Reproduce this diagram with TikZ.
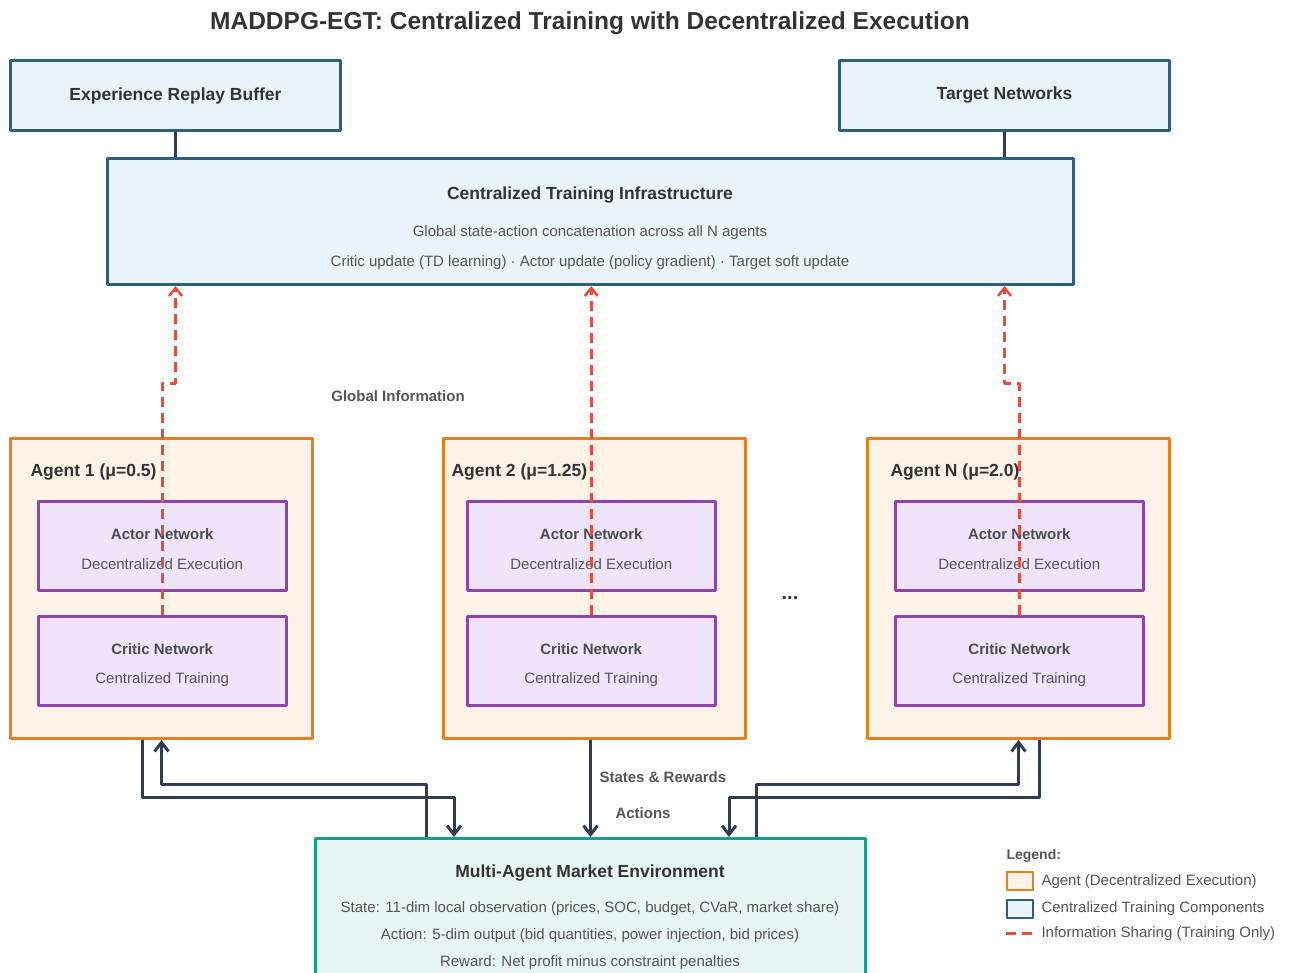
\documentclass[tikz,border=0pt]{standalone}
\usepackage{fontspec}
\setmainfont{Liberation Sans}
\usetikzlibrary{arrows.meta}
\definecolor{trainblue}{HTML}{2E5F7F}
\definecolor{trainfill}{HTML}{E8F4F8}
\definecolor{agentorange}{HTML}{E67E22}
\definecolor{agentfill}{HTML}{FEF3E6}
\definecolor{netpurple}{HTML}{8E44AD}
\definecolor{netfill}{HTML}{EFE4FC}
\definecolor{envteal}{HTML}{16A085}
\definecolor{envfill}{HTML}{E8F6F3}
\definecolor{shared}{HTML}{E74C3C}
\definecolor{flowdark}{HTML}{2C3E50}
\definecolor{txtdark}{HTML}{333333}
\definecolor{txtgray}{HTML}{555555}
\begin{document}
\begin{tikzpicture}[x=1pt,y=-1pt,line join=round,
	bluebox/.style={draw=trainblue,fill=trainfill,line width=3pt,anchor=north west},
	agentbox/.style={draw=agentorange,fill=agentfill,line width=3pt,anchor=north west,minimum width=302,minimum height=300},
	netbox/.style={draw=netpurple,fill=netfill,line width=2.5pt,anchor=north west,minimum width=248,minimum height=89},
	envbox/.style={draw=envteal,fill=envfill,line width=3pt,anchor=north west,minimum width=550,minimum height=160},
	bigttl/.style={font=\fontsize{17.5}{20}\selectfont\bfseries,text=txtdark},
	netttl/.style={font=\fontsize{15}{18}\selectfont\bfseries,text=txtgray!90!black},
	body/.style={font=\fontsize{15}{18}\selectfont,text=txtgray},
	tag/.style={font=\fontsize{15}{18}\selectfont\bfseries,text=txtgray},
	link/.style={draw=flowdark,line width=3pt},
	flow/.style={draw=flowdark,line width=3pt,-{Straight Barb[length=9pt,width=14pt,line width=3pt]}},
	share/.style={draw=shared,line width=3pt,dash pattern=on 10pt off 6pt,-{Straight Barb[length=8pt,width=13pt,line width=2.5pt]}}]
	\clip (0,0) rectangle (1292,972);
	\fill[white] (0,0) rectangle (1292,972);
	%%% title
	\node[font=\fontsize{24.5}{28}\selectfont\bfseries,text=txtdark] (title) at (590,23) {MADDPG-EGT: Centralized Training with Decentralized Execution};
	%%% centralized training part
	\node[bluebox,minimum width=330,minimum height=70] (erb) at (9,59) {};
	\node[bigttl] (erb-t) at (erb.center) {Experience Replay Buffer};
	\node[bluebox,minimum width=330,minimum height=70] (tgt) at (838,59) {};
	\node[bigttl] (tgt-t) at (tgt.center) {Target Networks};
	\node[bluebox,minimum width=966,minimum height=126] (cti) at (106,157) {};
	\node[bigttl] (cti-t) at (590,195) {Centralized Training Infrastructure};
	\node[body] (cti-a) at (590,233) {Global state-action concatenation across all N agents};
	\node[body] (cti-b) at (590,263) {Critic update (TD learning) · Actor update (policy gradient) · Target soft update};
	\draw[link] (erb.south) -- (erb.south |- cti.north);
	\draw[link] (tgt.south) -- (tgt.south |- cti.north);
	%%% agents
	\foreach \n/\x/\dx/\lx/\lab in {1/9/28/27/{Agent 1 (μ=0.5)},2/442/24/448/{Agent 2 (μ=1.25)},3/866/28/887/{Agent N (μ=2.0)}}{
		\node[agentbox] (ag\n) at (\x,437) {};
		\node[font=\fontsize{17.5}{20}\selectfont\bfseries,text=txtdark,anchor=west] (ag\n-t) at (\lx,472) {\lab};
		\node[netbox] (ac\n) at (\x+\dx,500) {};
		\node[netttl] (ac\n-t) at ([yshift=11.5pt]ac\n.center) {Actor Network};
		\node[body] (ac\n-s) at ([yshift=-18.5pt]ac\n.center) {Decentralized Execution};
		\node[netbox] (cr\n) at (\x+\dx,615) {};
		\node[netttl] (cr\n-t) at ([yshift=11.5pt]cr\n.center) {Critic Network};
		\node[body] (cr\n-s) at ([yshift=-18.5pt]cr\n.center) {Centralized Training};
	}
	\node[font=\fontsize{20}{22}\selectfont\bfseries,text=txtdark] (dots) at (790,598) {...};
	%%% information sharing (training only)
	\draw[share] (cr1.north) -- ++(0,-232) -| (erb.south |- cti.south);
	\draw[share] (cr2.north) -- (cr2.north |- cti.south);
	\draw[share] (cr3.north) -- ++(0,-232) -| (tgt.south |- cti.south);
	\node[tag] (glob) at (398,396) {Global Information};
	%%% environment
	\node[envbox] (env) at (314,837) {};
	\node[bigttl] (env-t) at (590,873) {Multi-Agent Market Environment};
	\node[body] (env-a) at (590,909) {State: 11-dim local observation (prices, SOC, budget, CVaR, market share)};
	\node[body] (env-b) at (590,936) {Action: 5-dim output (bid quantities, power injection, bid prices)};
	\node[body] (env-c) at (590,963) {Reward: Net profit minus constraint penalties};
	%%% actions down, states and rewards up
	\draw[flow] ([xshift=-19.5pt]ag1.south) -- ++(0,57) -| ([xshift=-136.5pt]env.north);
	\draw[flow] ([xshift=-164.5pt]env.north) -- ++(0,-53) -| (ag1.south);
	\draw[flow] (ag2.south -| env.north) -- (env.north);
	\draw[flow] ([xshift=20.5pt]ag3.south) -- ++(0,57) -| ([xshift=138.5pt]env.north);
	\draw[flow] ([xshift=165.5pt]env.north) -- ++(0,-53) -| (ag3.south);
	\node[tag,anchor=west] (sr) at (596,777) {States \& Rewards};
	\node[tag,anchor=west] (act) at (612,813) {Actions};
	%%% legend
	\node[tag,anchor=west,font=\fontsize{14}{16}\selectfont\bfseries] (leg) at (1003,856) {Legend:};
	\draw[draw=agentorange,fill=agentfill,line width=2.5pt] (1007,872) rectangle (1033,890);
	\draw[draw=trainblue,fill=trainfill,line width=2.5pt] (1007,900) rectangle (1033,918);
	\draw[share,-] (1006,933) -- (1034,933);
	\node[body,anchor=west] (leg-a) at (1038,882) {Agent (Decentralized Execution)};
	\node[body,anchor=west] (leg-b) at (1038,909) {Centralized Training Components};
	\node[body,anchor=west] (leg-c) at (1038,934) {Information Sharing (Training Only)};
\end{tikzpicture}
\end{document}
